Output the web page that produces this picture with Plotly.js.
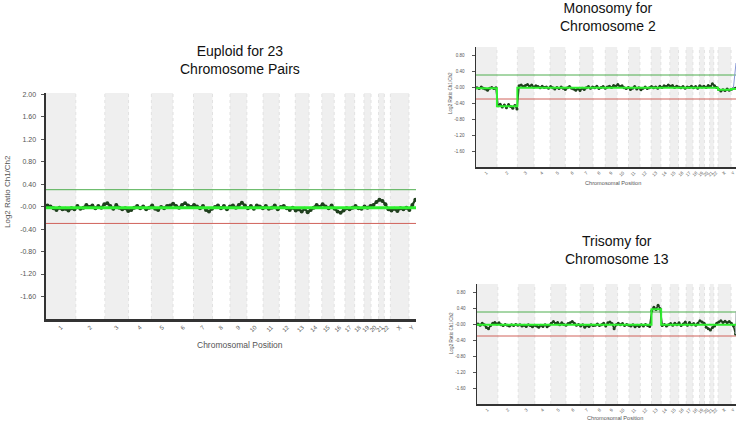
<!DOCTYPE html>
<html>
<head>
<meta charset="utf-8">
<script src="https://cdn.plot.ly/plotly-3.0.1.min.js"></script>
<style>
  body { margin: 0; background: #fff; }
  #grafica { width: 739px; height: 423px; }
</style>
</head>
<body>
<div id="grafica"></div>
<script>
// chromosomes, sizes in Mb
var chromLabels = ['1','2','3','4','5','6','7','8','9','10','11','12','13','14','15','16','17','18','19','20','21','22','X','Y'];
var chromSizes = [249,243,198,191,181,171,159,146,141,136,135,134,115,107,103,90,81,78,59,63,48,51,155,59];
var binMb = 25;
var thresholds = [0.3, -0.3];
var mainYTicks = [-1.6,-1.2,-0.8,-0.4,0,0.4,0.8,1.2,1.6,2.0];
var smallYTicks = [-1.6,-1.2,-0.8,-0.4,0,0.4,0.8];

// log2 ratio per 25 Mb bin
var euploidVals = [
  0.02, 0.00,-0.03,-0.06,-0.02,-0.05,-0.04,-0.07,-0.03,-0.05,
  0.01,-0.04,-0.02, 0.03,-0.01, 0.02,-0.03, 0.01,-0.02, 0.04,
  0.06, 0.01,-0.04, 0.03,-0.02,-0.05,-0.03,-0.08,-0.06,-0.02,
  0.01,-0.03, 0.00,-0.05,-0.02, 0.02,-0.04,-0.06,-0.01,-0.03,
  0.01, 0.02, 0.05, 0.01,-0.02, 0.03, 0.06, 0.02,-0.01, 0.03,
  0.00,-0.03, 0.01,-0.06,-0.09,-0.04,-0.01, 0.02,-0.03, 0.01,
 -0.05, 0.00, 0.02,-0.02, 0.03, 0.07, 0.02,-0.03, 0.01,-0.04,
  0.02, 0.00,-0.03, 0.01,-0.04,-0.02, 0.02,-0.05,-0.01, 0.01,
 -0.03,-0.06,-0.02,-0.07,-0.05,-0.09,-0.04,-0.10,-0.06,-0.02,
  0.03,-0.01, 0.04, 0.00,-0.03, 0.02,-0.04,-0.09,-0.11,-0.07,
 -0.03,-0.05,-0.02, 0.01,-0.03,-0.04, 0.00,-0.02, 0.01, 0.03,
  0.08, 0.12, 0.10, 0.04,-0.05,-0.07,-0.04,-0.08,-0.03,-0.05,
 -0.02,-0.06, 0.03, 0.12
];
var euploidSegBreaks = [0, 3093];
var euploidSegMeans = [-0.02];

var monoVals = [
 -0.02,-0.04, 0.00,-0.03,-0.05,-0.08,-0.03,-0.01,-0.04,-0.02,   // 1
 -0.47,-0.43,-0.50,-0.45,-0.52,-0.44,-0.49,-0.53,-0.46,-0.55,   // 2
  0.03, 0.05, 0.01, 0.04, 0.06, 0.02, 0.05, 0.00,               // 3
  0.03, 0.01,-0.02, 0.02,-0.01, 0.00,-0.03,                     // 4
  0.01,-0.02,-0.05,-0.01,-0.04, 0.00,-0.03,                     // 5
 -0.06,-0.02, 0.01,-0.03,-0.05,-0.08,-0.04,                     // 6
 -0.09,-0.03,-0.06,-0.02, 0.01,-0.03, 0.00,                     // 7
 -0.02, 0.02,-0.04,-0.01, 0.01,-0.03,                           // 8
  0.00, 0.02,-0.01, 0.04, 0.02,                                 // 9
  0.06, 0.01, 0.03,-0.02,-0.04,-0.01,                           // 10
 -0.06,-0.03, 0.01,-0.05,-0.02,                                 // 11
 -0.07,-0.03, 0.00,-0.04,-0.02,                                 // 12
  0.01,-0.02, 0.00,-0.03, 0.02,                                 // 13
 -0.01, 0.03, 0.01, 0.05,                                       // 14
  0.02, 0.04,-0.01, 0.02,                                       // 15
  0.00,-0.02, 0.01,-0.03,                                       // 16
  0.00,-0.01, 0.02,                                             // 17
 -0.02, 0.01,-0.03,                                             // 18
  0.03, 0.00, 0.02,                                             // 19
 -0.01, 0.04,                                                   // 20
  0.01, 0.08,                                                   // 21
  0.03,-0.01,                                                   // 22
 -0.06,-0.10,-0.07,-0.09,-0.05,-0.08,                           // X
 -0.06,-0.04,-0.03                                              // Y
];
var monoSegBreaks = [0, 249, 492, 2879, 3034, 3093];
var monoSegMeans = [-0.03, -0.48, -0.02, -0.07, -0.05];
var monoTailX = [3062, 3093];
var monoTailY = [-0.03, 0.6];

var triVals = [
  0.00,-0.03, 0.02,-0.02,-0.09,-0.12,-0.04, 0.02, 0.04, 0.00,   // 1
  0.03,-0.02,-0.04,-0.01,-0.03,-0.05,-0.02,-0.04,-0.01,-0.03,   // 2
 -0.02,-0.05,-0.03,-0.06,-0.02,-0.04,-0.07,-0.03,               // 3
 -0.05,-0.08,-0.03,-0.06,-0.02,-0.07,-0.03,                     // 4
  0.02, 0.06, 0.01, 0.04,-0.02, 0.03,-0.01,                     // 5
 -0.03, 0.01, 0.03, 0.06, 0.02,-0.03,-0.01,                     // 6
 -0.05,-0.02,-0.08,-0.04,-0.06,-0.02,-0.04,                     // 7
 -0.03, 0.00,-0.04,-0.02, 0.02,-0.05,                           // 8
  0.03, 0.05, 0.01,-0.12,-0.02,                                 // 9
  0.02,-0.02, 0.01,-0.04,-0.01,-0.03,                           // 10
 -0.05,-0.02,-0.07,-0.03,-0.06,                                 // 11
 -0.02,-0.05,-0.01,-0.04,-0.06,                                 // 12
  0.33, 0.42, 0.36, 0.47, 0.38,                                 // 13
 -0.04,-0.01,-0.05,-0.02,                                       // 14
  0.01,-0.03, 0.02,-0.02,                                       // 15
  0.03,-0.04, 0.00, 0.05,                                       // 16
 -0.03, 0.04,-0.02,                                             // 17
  0.01,-0.03, 0.02,                                             // 18
  0.08, 0.05, 0.02,                                             // 19
 -0.08,-0.12,                                                   // 20
 -0.15,-0.09,                                                   // 21
 -0.05, 0.02,                                                   // 22
  0.05, 0.08, 0.04, 0.07, 0.03, 0.06,                           // X
  0.02,-0.05,-0.25                                              // Y
];
var triSegBreaks = [0, 2084, 2199, 3093];
var triSegMeans = [-0.02, 0.37, -0.02];
var triTailX = [3087.5, 3093];
var triTailY = [-0.25, 0.32];

// ---- helpers ----
var W = 739, H = 423;
function px(x) { return x / W; }
function py(y) { return 1 - y / H; }

var chromStarts = [];
var acc = 0;
chromSizes.forEach(function (s) { chromStarts.push(acc); acc += s; });
var genomeEnd = acc;
var chromMids = chromSizes.map(function (s, i) { return chromStarts[i] + s / 2; });

function binX(vals) {
  return vals.map(function (v, i) { return (i + 0.5) * binMb; });
}
function segY(means) { return means.concat([means[means.length - 1]]); }

var DOT_DARK = '#1f3f1d';
var SEG_GREEN = '#2ef02e';

function panelTraces(sfx, vals, breaks, means, big, tailX, tailY, tailColor) {
  var tr = [];
  tr.push({
    x: binX(vals), y: vals, xaxis: 'x' + sfx, yaxis: 'y' + sfx,
    type: 'scatter', mode: 'lines+markers',
    line: { color: DOT_DARK, width: big ? 2.2 : 1.6 },
    marker: { color: DOT_DARK, size: big ? 4 : 3 },
    hoverinfo: 'skip'
  });
  if (tailX) {
    tr.push({
      x: tailX, y: tailY, xaxis: 'x' + sfx, yaxis: 'y' + sfx,
      type: 'scatter', mode: 'lines',
      line: { color: tailColor, width: 1 }, hoverinfo: 'skip'
    });
  }
  tr.push({
    x: breaks, y: segY(means), xaxis: 'x' + sfx, yaxis: 'y' + sfx,
    type: 'scatter', mode: 'lines',
    line: { color: SEG_GREEN, width: big ? 3 : 2, shape: 'hv' },
    hoverinfo: 'skip'
  });
  return tr;
}

function panelShapes(sfx) {
  var xr = 'x' + sfx, yr = 'y' + sfx;
  var sh = [];
  chromSizes.forEach(function (s, i) {
    if (i % 2 === 0) {
      sh.push({ type: 'rect', xref: xr, yref: yr + ' domain',
        x0: chromStarts[i], x1: chromStarts[i] + s, y0: 0, y1: 1,
        fillcolor: '#efefef', line: { width: 0 }, layer: 'below' });
    }
    if (i > 0) {
      sh.push({ type: 'line', xref: xr, yref: yr + ' domain',
        x0: chromStarts[i], x1: chromStarts[i], y0: 0, y1: 1,
        line: { color: '#e2e2e2', width: 1, dash: 'dot' }, layer: 'below' });
    }
  });
  sh.push({ type: 'line', xref: xr + ' domain', yref: yr, x0: 0, x1: 1,
    y0: thresholds[0], y1: thresholds[0], line: { color: '#4fae4f', width: 1 }, layer: 'below' });
  sh.push({ type: 'line', xref: xr + ' domain', yref: yr, x0: 0, x1: 1,
    y0: thresholds[1], y1: thresholds[1], line: { color: '#d0625a', width: 1 }, layer: 'below' });
  return sh;
}

function yTickText(t) { return t.map(function (v) { return v === 0 ? '-0.00' : v.toFixed(2); }); }

function xAxis(anchor, domain, fs, lw) {
  return {
    anchor: anchor, domain: domain, range: [0, genomeEnd], showgrid: false, zeroline: false,
    showline: true, linecolor: '#333', linewidth: lw,
    tickmode: 'array', tickvals: chromMids, ticktext: chromLabels,
    tickangle: -45, ticks: '', tickfont: { size: fs, color: '#555' },
    fixedrange: true
  };
}
function yAxis(anchor, domain, range, ticks, fs, lw, stand) {
  return {
    anchor: anchor, domain: domain, range: range, showgrid: false, zeroline: false,
    showline: true, linecolor: '#333', linewidth: lw,
    tickmode: 'array', tickvals: ticks, ticktext: yTickText(ticks),
    ticks: 'outside', ticklen: 3, tickcolor: '#555',
    ticklabelstandoff: stand,
    tickfont: { size: fs, color: '#555' }, fixedrange: true
  };
}

var data = []
  .concat(panelTraces('', euploidVals, euploidSegBreaks, euploidSegMeans, true))
  .concat(panelTraces('2', monoVals, monoSegBreaks, monoSegMeans, false, monoTailX, monoTailY, '#8798d6'))
  .concat(panelTraces('3', triVals, triSegBreaks, triSegMeans, false, triTailX, triTailY, '#9aa4a8'));

var font = 'Liberation Sans, Arial, sans-serif';
function note(text, x, y, size, color, angle) {
  return { text: text, xref: 'paper', yref: 'paper', x: px(x), y: py(y),
    xanchor: 'center', yanchor: 'middle', showarrow: false, textangle: angle || 0,
    font: { family: font, size: size, color: color } };
}

var layout = {
  width: W, height: H, autosize: false,
  margin: { l: 0, r: 0, t: 0, b: 0 },
  paper_bgcolor: '#fff', plot_bgcolor: '#fff',
  showlegend: false,
  font: { family: font },
  xaxis: xAxis('y', [px(46), px(416)], 6, 2.5),
  yaxis: yAxis('x', [py(319), py(93)], [-2.0, 2.02], mainYTicks, 7, 2.5, 3),
  xaxis2: xAxis('y2', [px(476), px(736)], 4.5, 1.5),
  yaxis2: yAxis('x2', [py(167), py(47)], [-2.0, 1.0], smallYTicks, 4.5, 1.5, 6),
  xaxis3: xAxis('y3', [px(477), px(736)], 4.5, 1.5),
  yaxis3: yAxis('x3', [py(404), py(284)], [-2.0, 1.0], smallYTicks, 4.5, 1.5, 6),
  shapes: panelShapes('').concat(panelShapes('2')).concat(panelShapes('3')),
  annotations: [
    note('Euploid for 23<br>Chromosome Pairs', 240, 60, 14, '#111'),
    note('Monosomy for<br>Chromosome 2', 608, 17, 14, '#111'),
    note('Trisomy for<br>Chromosome 13', 617, 250, 14, '#111'),
    note('Log2 Ratio Ch1/Ch2', 7, 192, 8, '#555', -90),
    note('Chromosomal Position', 240, 345, 8.5, '#555'),
    note('Log2 Ratio Ch1/Ch2', 450, 93, 4.6, '#555', -90),
    note('Chromosomal Position', 613, 183, 5.6, '#555'),
    note('Log2 Ratio Ch1/Ch2', 451, 333, 4.6, '#555', -90),
    note('Chromosomal Position', 615, 418, 5.6, '#555')
  ]
};

Plotly.newPlot('grafica', data, layout, { displayModeBar: false, staticPlot: true });
</script>
</body>
</html>
